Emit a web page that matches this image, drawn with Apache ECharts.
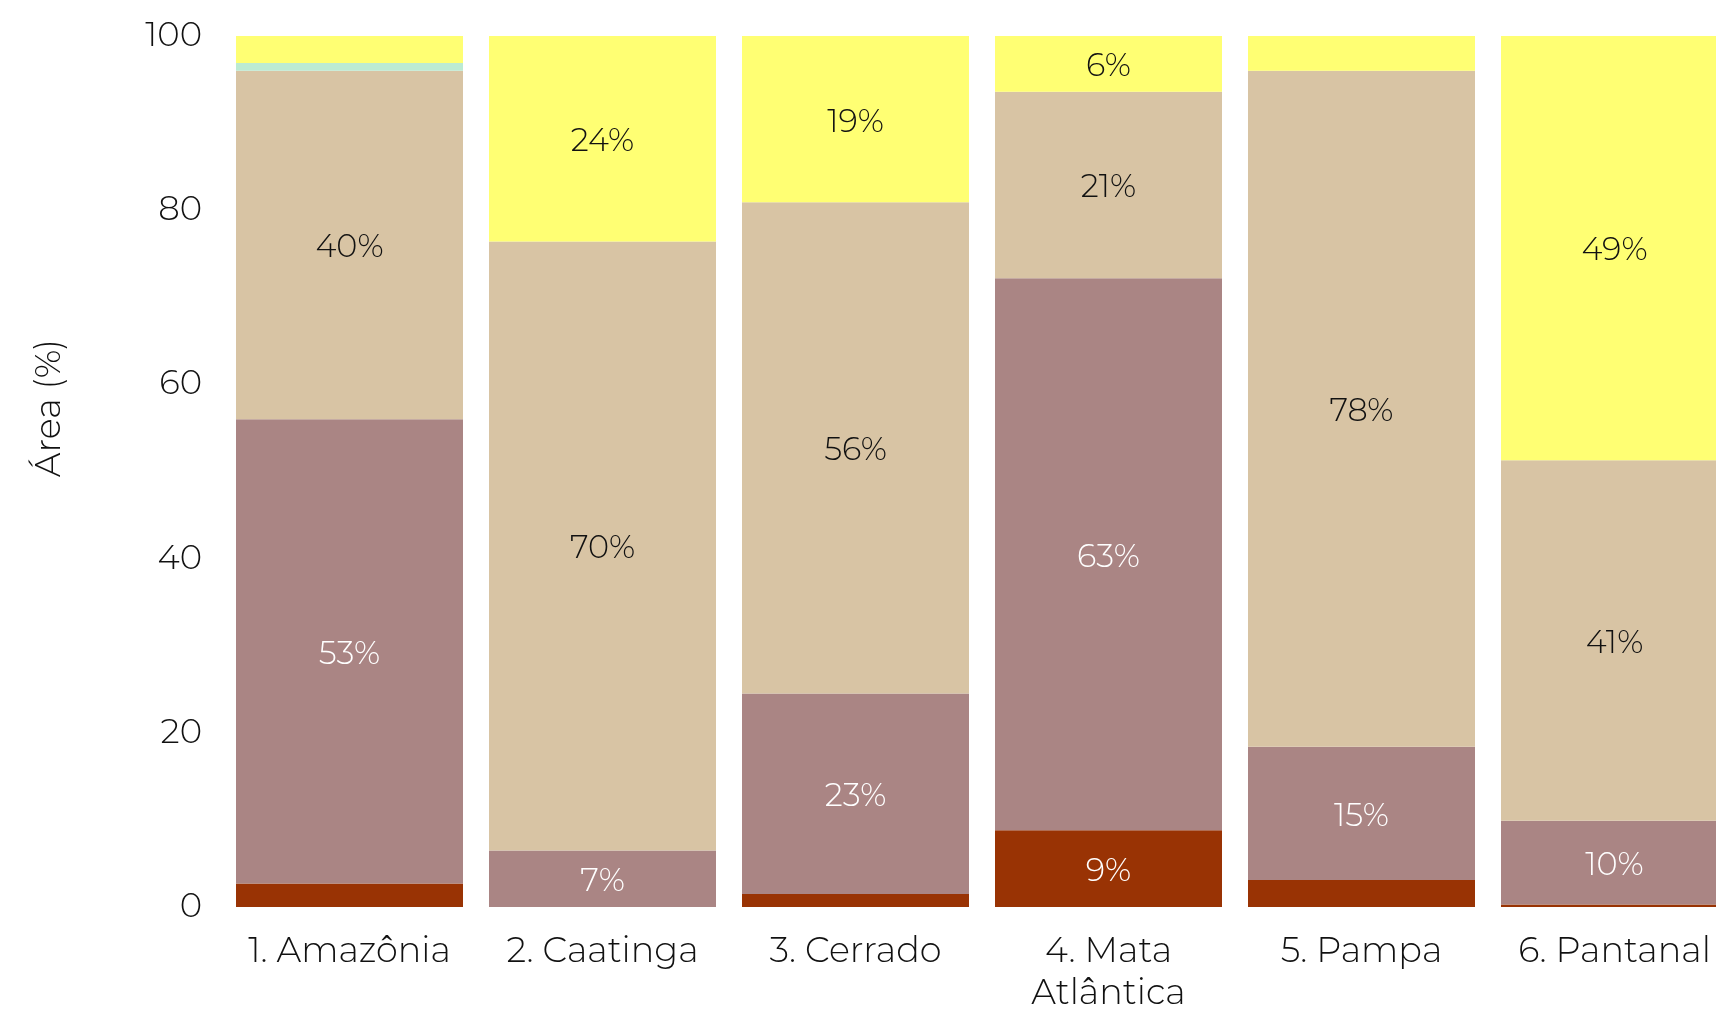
<!DOCTYPE html>
<html>
<head>
<meta charset="utf-8">
<script src="https://cdn.jsdelivr.net/npm/echarts@6/dist/echarts.min.js"></script>
<style>
html,body{margin:0;padding:0;background:#fff;overflow:hidden;width:1716px;height:1010px;}
#chart{width:1741px;height:1010px;}
</style>
</head>
<body>
<div id="chart"></div>
<script>
const categories = ['1. Amazônia', '2. Caatinga', '3. Cerrado', '4. Mata\nAtlântica', '5. Pampa', '6. Pantanal'];
const seriesNames = ['Vermelho', 'Malva', 'Bege', 'Verde-água', 'Amarelo'];
const redValues    = [2.7, 0.0, 1.5, 8.8, 3.1, 0.3];
const mauveValues  = [53.3, 6.5, 23.0, 63.4, 15.3, 9.6];
const tanValues    = [40.0, 69.9, 56.4, 21.4, 77.6, 41.4];
const mintValues   = [0.9, 0.0, 0.0, 0.0, 0.0, 0.0];
const yellowValues = [3.1, 23.6, 19.1, 6.4, 4.0, 48.7];
const yTicks = [0, 20, 40, 60, 80, 100];

const FONT = 'Montserrat, Lato, "Open Sans", sans-serif';
const colors = ['#993304', '#aa8584', '#d8c4a4', '#bcebd3', '#ffff73'];
const labelColors = ['#ffffff', '#ffffff', '#111111', '#111111', '#111111'];
const allValues = [redValues, mauveValues, tanValues, mintValues, yellowValues];

const chart = echarts.init(document.getElementById('chart'), null, {renderer: 'canvas'});
chart.setOption({
  animation: false,
  backgroundColor: '#ffffff',
  grid: {left: 223, right: 0, top: 36, bottom: 103, containLabel: false, outerBoundsMode: 'none'},
  xAxis: {
    type: 'category',
    data: categories,
    axisLine: {show: false},
    axisTick: {show: false},
    axisLabel: {
      fontFamily: FONT, fontWeight: 300, fontSize: 35, color: '#111111',
      margin: 24, lineHeight: 42, interval: 0
    }
  },
  yAxis: {
    type: 'value',
    min: yTicks[0], max: yTicks[yTicks.length - 1], interval: 20,
    axisLine: {show: false},
    axisTick: {show: false},
    splitLine: {show: false},
    axisLabel: {fontFamily: FONT, fontWeight: 300, fontSize: 34, color: '#111111', margin: 21}
  },
  graphic: [{
    type: 'text',
    left: 32, top: 339,
    rotation: Math.PI / 2,
    style: {text: 'Área (%)', fontFamily: FONT, fontWeight: 300, fontSize: 35, fill: '#111111'},
    originX: 0, originY: 0
  }],
  series: allValues.map((vals, i) => ({
    name: seriesNames[i],
    type: 'bar',
    stack: 'total',
    data: vals,
    barWidth: 227,
    itemStyle: {color: colors[i]},
    label: {
      show: true,
      position: 'inside',
      offset: [0, 3],
      fontFamily: FONT, fontWeight: 300, fontSize: 32,
      color: labelColors[i],
      formatter: p => (p.value >= 5 ? Math.round(p.value) + '%' : '')
    }
  }))
});
</script>
</body>
</html>
